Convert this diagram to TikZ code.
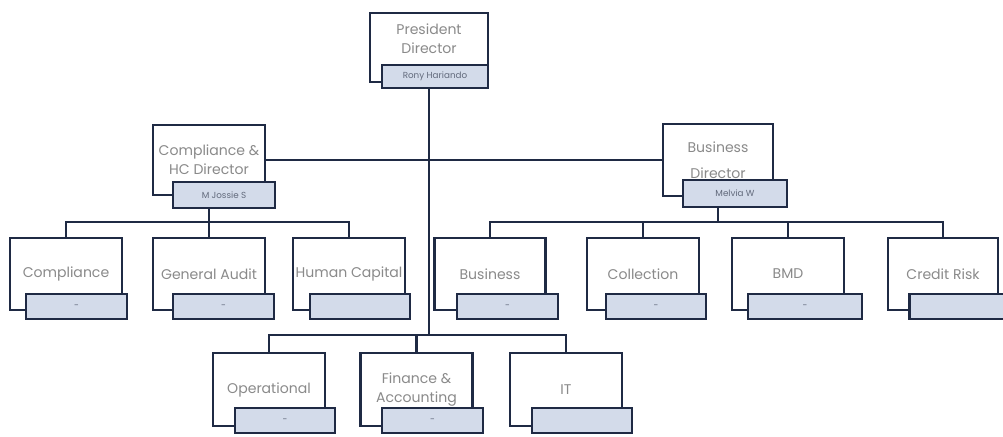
\documentclass[tikz,border=0pt]{standalone}
\usepackage{fontspec}
\setmainfont{Poppins}
\usepackage{tikz}
\usetikzlibrary{calc}

\definecolor{linecol}{HTML}{1F2A44}
\definecolor{namefill}{HTML}{D3DBEA}
\definecolor{txtgray}{HTML}{8A8A8A}

\tikzset{
  unit/.style={draw=linecol,line width=1.6pt,fill=white,minimum width=2.24cm,minimum height=1.44cm,
    align=center,inner sep=1pt,font=\fontsize{8}{11}\selectfont,text=txtgray},
  holder/.style={draw=linecol,line width=1.6pt,fill=namefill,minimum width=2cm,minimum height=0.5cm,
    inner sep=1pt,font=\fontsize{5}{6}\selectfont,text=linecol!70},
  link/.style={draw=linecol,line width=1.6pt}
}

\begin{document}
\begin{tikzpicture}[x=0.02cm,y=-0.02cm]
\useasboundingbox[fill=white] (0,0) rectangle (1003,436);

% top
\node[unit,minimum width=2.36cm,minimum height=1.38cm,text depth=10pt] (pres) at (429,47.5) {President\\Director};
\node[holder,minimum width=2.12cm,minimum height=0.46cm] (presn) at (435,76.5) {Rony Hariando};

% directors
\node[unit,minimum height=1.4cm] (cdir) at (209,160) {Compliance \&\\HC Director};
\node[holder,minimum width=2.04cm,minimum height=0.52cm] (cdirn) at (224,195) {M Jossie S};
\node[unit,minimum width=2.2cm] (bdir) at (718,160) {Business\\[4pt]Director};
\node[holder,minimum width=2.08cm,minimum height=0.54cm] (bdirn) at (735,193.5) {Melvia W};

% left row
\node[unit] (comp) at (66,274) {Compliance};
\node[holder,minimum width=2.02cm] (compn) at (76.5,306.5) {-};
\node[unit] (audit) at (209,274) {General Audit};
\node[holder,minimum width=2.02cm] (auditn) at (223.5,306.5) {-};
\node[unit] (hc) at (349,274) {Human Capital};
\node[holder] (hcn) at (360,306.5) {};

% right row
\node[unit,minimum width=2.22cm] (bus) at (490,274) {Business};
\node[holder,minimum width=2.02cm] (busn) at (507.5,306.5) {-};
\node[unit] (coll) at (643,274) {Collection};
\node[holder] (colln) at (656,306.5) {-};
\node[unit] (bmd) at (788,274) {BMD};
\node[holder,minimum width=2.28cm] (bmdn) at (805,306.5) {-};
\node[unit,minimum width=2.2cm] (crisk) at (943,274) {Credit Risk};
\node[holder,minimum width=2.1cm] (criskn) at (962,306.5) {};

% bottom row
\node[unit,minimum height=1.46cm] (ops) at (269,389.5) {Operational};
\node[holder] (opsn) at (285,420.5) {-};
\node[unit,minimum height=1.46cm] (fin) at (416.5,389.5) {Finance \&\\Accounting};
\node[holder,minimum width=2.02cm] (finn) at (432.5,420.5) {-};
\node[unit,minimum height=1.46cm] (it) at (566,389.5) {IT};
\node[holder] (itn) at (582,420.5) {};

\coordinate (lbus) at (209,222);
\coordinate (rbus) at (718,222);
\coordinate (mbus) at (429,335);

\draw[link] (pres.south |- presn.south) -- (mbus);
\draw[link] (cdir.east) -- (bdir.west);
\draw[link] (cdir.south |- cdirn.south) -- (lbus);
\draw[link] (bdir.south |- bdirn.south) -- (rbus);
\foreach \n in {comp,audit,hc} \draw[link] (lbus) -| (\n.north);
\foreach \n in {bus,coll,bmd,crisk} \draw[link] (rbus) -| (\n.north);
\foreach \n in {ops,fin,it} \draw[link] (mbus) -| (\n.north);
\end{tikzpicture}
\end{document}
